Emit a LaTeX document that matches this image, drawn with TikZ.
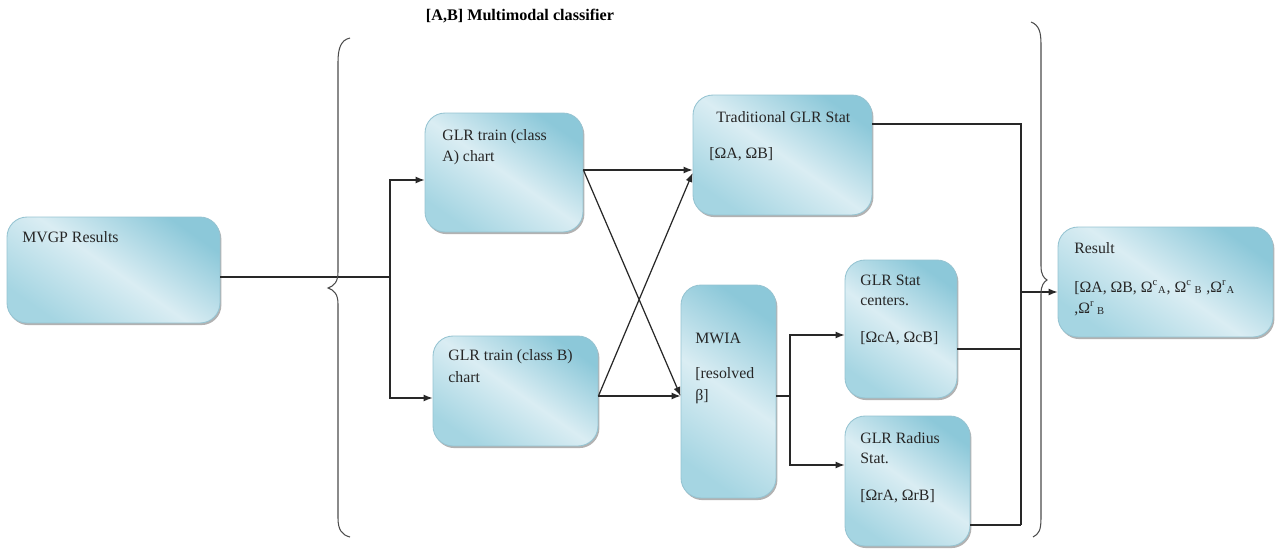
\documentclass[tikz,border=0pt]{standalone}
\usepackage{fontspec}
\setmainfont{Liberation Serif}
\usetikzlibrary{arrows.meta,shadows}
\definecolor{boxdark}{RGB}{140,200,217}
\definecolor{boxlight}{RGB}{218,237,243}
\definecolor{boxbot}{RGB}{165,213,226}
\definecolor{boxedge}{RGB}{150,196,210}
\definecolor{linec}{RGB}{40,40,40}
\tikzset{
  box/.style={rounded corners=0.4cm, draw=boxedge, line width=0.5pt,
    top color=boxdark, bottom color=boxbot, middle color=boxlight, shading angle=-35,
    drop shadow={shadow xshift=0.8pt, shadow yshift=-1.2pt, opacity=0.3, fill=black},
    inner sep=0pt},
  txt/.style={anchor=base west, inner sep=0pt, font=\fontsize{9}{11}\selectfont, text=black!85},
  conn/.style={draw=linec, line width=0.7pt},
  arr/.style={conn, -{Latex[length=1.8mm,width=1.4mm]}},
  bracec/.style={draw=black!70, line width=0.6pt},
}
\begin{document}
\begin{tikzpicture}[x=0.02cm, y=-0.02cm]
\useasboundingbox (0,0) rectangle (1275,548);

% title
\node[font=\fontsize{9.2}{11}\selectfont\bfseries, inner sep=0pt] (title) at (520,16) {[A,B] Multimodal classifier};

% boxes
\node[box, minimum width=4.26cm, minimum height=2.12cm] (mvgp) at (113.5,270) {};
\node[box, minimum width=3.16cm, minimum height=2.38cm] (trainA) at (504,172.5) {};
\node[box, minimum width=3.3cm, minimum height=2.2cm] (trainB) at (515.5,391) {};
\node[box, minimum width=3.58cm, minimum height=2.4cm] (trad) at (782.5,155) {};
\node[box, minimum width=1.9cm, minimum height=4.26cm] (mwia) at (728.5,391.5) {};
\node[box, minimum width=2.24cm, minimum height=2.76cm] (centers) at (901,329) {};
\node[box, minimum width=2.5cm, minimum height=2.6cm] (radius) at (907.5,481) {};
\node[box, minimum width=4.3cm, minimum height=2.2cm] (result) at (1165.5,282) {};

% texts
\node[txt] (t1) at (22,242) {MVGP Results};
\node[txt] (t2a) at (442,140) {GLR train (class};
\node[txt] (t2b) at (442,161) {A) chart};
\node[txt] (t3a) at (448,360) {GLR train (class B)};
\node[txt] (t3b) at (448,382) {chart};
\node[txt] (t4a) at (716,122) {Traditional GLR Stat};
\node[txt] (t4b) at (709,158) {[ΩA, ΩB]};
\node[txt] (t5a) at (695,343) {MWIA};
\node[txt] (t5b) at (695,378) {[resolved};
\node[txt] (t5c) at (695,400) {β]};
\node[txt] (t6a) at (860,285) {GLR Stat};
\node[txt] (t6b) at (860,305) {centers.};
\node[txt] (t6c) at (860,342) {[ΩcA, ΩcB]};
\node[txt] (t7a) at (860,443) {GLR Radius};
\node[txt] (t7b) at (860,463) {Stat.};
\node[txt] (t7c) at (860,500) {[ΩrA, ΩrB]};
\node[txt] (t8a) at (1074,253) {Result};
\node[txt] (t8b) at (1074,292) {[ΩA, ΩB, Ω\textsuperscript{c}\textsubscript{A}, Ω\textsuperscript{c}\,\textsubscript{B} ,Ω\textsuperscript{r}\textsubscript{A}};
\node[txt] (t8c) at (1074,313) {,Ω\textsuperscript{r}\,\textsubscript{B}};

% level coordinates
\coordinate (j1) at (390,277);
\coordinate (yA) at (0,180);
\coordinate (yB) at (0,398);
\coordinate (yAo) at (0,170);
\coordinate (yT) at (0,173);
\coordinate (yM) at (0,396);
\coordinate (j2) at (790,396);
\coordinate (yC) at (0,335);
\coordinate (yR) at (0,465);
\coordinate (yTo) at (0,124);
\coordinate (yCo) at (0,349);
\coordinate (yRo) at (0,525);
\coordinate (yRes) at (0,292);
\coordinate (k1) at (1021,124);
\coordinate (k2) at (1021,525);

% connectors
\draw[conn] (mvgp.east |- j1) -- (j1);
\draw[arr] (j1) |- (trainA.west |- yA);
\draw[arr] (j1) |- (trainB.west |- yB);
\draw[arr] (trainA.east |- yAo) -- (trad.west |- yAo);
\draw[arr] (trainA.east |- yAo) -- (mwia.west |- yM);
\draw[arr] (trainB.east |- yM) -- (mwia.west |- yM);
\draw[arr] (trainB.east |- yM) -- (trad.west |- yT);
\draw[conn] (mwia.east |- yM) -- (j2);
\draw[arr] (j2) |- (centers.west |- yC);
\draw[arr] (j2) |- (radius.west |- yR);
\draw[conn] (trad.east |- yTo) -- (k1) -- (k2);
\draw[conn] (centers.east |- yCo) -- (k1 |- yCo);
\draw[conn] (radius.east |- yRo) -- (k2);
\draw[arr] (k1 |- yRes) -- (result.west |- yRes);

% braces
\draw[bracec] (350,38) .. controls (341,40) and (338,48) .. (338,62) -- (338,272)
  .. controls (338,282) and (334,286) .. (328,288)
  .. controls (334,290) and (338,294) .. (338,304) -- (338,518)
  .. controls (338,530) and (342,535) .. (350,537);
\draw[bracec] (1031,22) .. controls (1039,25) and (1041,32) .. (1041,44) -- (1041,266)
  .. controls (1041,275) and (1044,278) .. (1047,280)
  .. controls (1044,282) and (1041,285) .. (1041,294) -- (1041,518)
  .. controls (1041,530) and (1039,534) .. (1033,537);
\end{tikzpicture}
\end{document}
